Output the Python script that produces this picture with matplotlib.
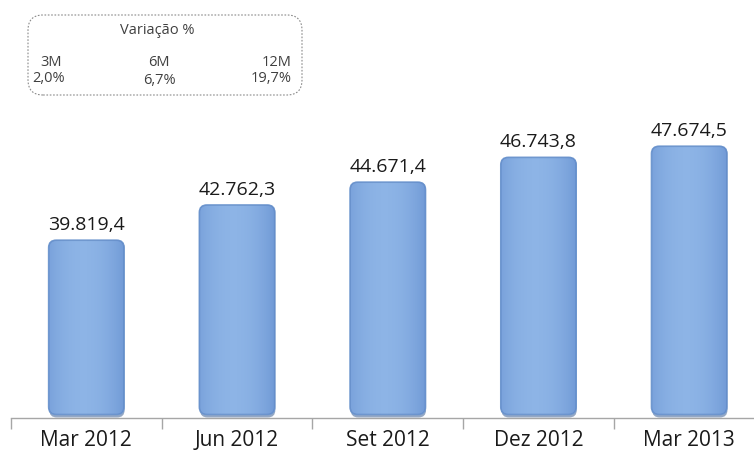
import matplotlib.pyplot as plt
import numpy as np
from matplotlib.patches import FancyBboxPatch

plt.rcParams['font.family'] = ['Open Sans', 'DejaVu Sans']

# data
periodos = ['Mar 2012', 'Jun 2012', 'Set 2012', 'Dez 2012', 'Mar 2013']
valores = [39819.4, 42762.3, 44671.4, 46743.8, 47674.5]
var_labels = ['3M', '6M', '12M']
var_values = ['2,0%', '6,7%', '19,7%']


def fmt_br(v):
    s = f"{v:,.1f}"
    return s.replace(',', 'X').replace('.', ',').replace('X', '.')


W, H = 754, 454
fig = plt.figure(figsize=(W / 100, H / 100), dpi=100)
ax = fig.add_axes([11 / W, 36.5 / H, 743 / W, 317.5 / H])

ymin, ymax = 25000, 51540
xmin, xmax = -0.5, 4.43
ax.set_xlim(xmin, xmax)
ax.set_ylim(ymin, ymax)
ypx = (ymax - ymin) / 317.5  # data units per pixel

x = np.arange(len(valores))
bars = ax.bar(x, np.array(valores) - ymin, bottom=ymin, width=0.5, alpha=0)

# aspect between data units per pixel (y over x)
aspect = ypx / ((xmax - xmin) / 743)

for b, v in zip(bars, valores):
    bx, by, bw, bh = b.get_x(), b.get_y(), b.get_width(), b.get_height()
    # shadow
    sh = FancyBboxPatch((bx + 0.004, by), bw, bh,
                        boxstyle="round,pad=0,rounding_size=0.05",
                        mutation_aspect=aspect, fc='#4d6f9f', ec='none',
                        alpha=0.6, zorder=2)
    ax.add_patch(sh)
    p = FancyBboxPatch((bx, by + 3 * ypx), bw, bh - 3 * ypx,
                       boxstyle="round,pad=0,rounding_size=0.05",
                       mutation_aspect=aspect, fc='#8db4e6', ec='#7098cf',
                       lw=1.2, zorder=3)
    ax.add_patch(p)
    # horizontal gradient clipped to bar
    grad = np.linspace(0, 1, 64)
    shade = 1 - 0.9 * (2 * np.abs(grad - 0.45)) ** 2
    img = np.zeros((1, 64, 4))
    img[..., 0] = 0.33
    img[..., 1] = 0.50
    img[..., 2] = 0.78
    img[..., 3] = (1 - shade) * 0.45
    im = ax.imshow(img, extent=[bx, bx + bw, by, by + bh], aspect='auto',
                   zorder=4, interpolation='bilinear')
    im.set_clip_path(p)
    ax.text(b.get_x() + bw / 2, v + 15.5 * ypx, fmt_br(v),
            ha='center', va='center', fontsize=14, color='#1a1a1a')

ax.set_xlim(xmin, xmax)
ax.set_ylim(ymin, ymax)

for s in ['top', 'right', 'left']:
    ax.spines[s].set_visible(False)
ax.spines['bottom'].set_color('#a6a6a6')
ax.spines['bottom'].set_linewidth(1.0)
ax.set_yticks([])
ax.set_xticks(x)
ax.set_xticklabels(periodos, fontsize=15, color='#1a1a1a')
ax.set_xticks(np.arange(-0.5, 4.5, 1), minor=True)
ax.tick_params(axis='x', which='major', length=0, pad=9)
ax.tick_params(axis='x', which='minor', length=8, color='#a6a6a6', width=1.0)

# variation box
box = FancyBboxPatch((28 / W, 1 - 95 / H), 274 / W, 80 / H,
                     boxstyle="round,pad=0,rounding_size=0.02",
                     transform=fig.transFigure, fc='white', ec='#8a8a8a',
                     lw=0.8, ls=(0, (1.5, 1.5)), mutation_aspect=W / H)
fig.patches.append(box)
tc = '#404040'
fs = 10.5
fig.text(157 / W, 1 - 31 / H, 'Variação %', ha='center', va='center', fontsize=fs, color=tc)
fig.text(40 / W, 1 - 62 / H, var_labels[0], ha='left', va='center', fontsize=fs, color=tc)
fig.text(32 / W, 1 - 78 / H, var_values[0], ha='left', va='center', fontsize=fs, color=tc)
fig.text(159 / W, 1 - 62 / H, var_labels[1], ha='center', va='center', fontsize=fs, color=tc)
fig.text(159 / W, 1 - 81 / H, var_values[1], ha='center', va='center', fontsize=fs, color=tc)
fig.text(292 / W, 1 - 62 / H, var_labels[2], ha='right', va='center', fontsize=fs, color=tc)
fig.text(292 / W, 1 - 79 / H, var_values[2], ha='right', va='center', fontsize=fs, color=tc)

fig.savefig('out.png', dpi=100)
